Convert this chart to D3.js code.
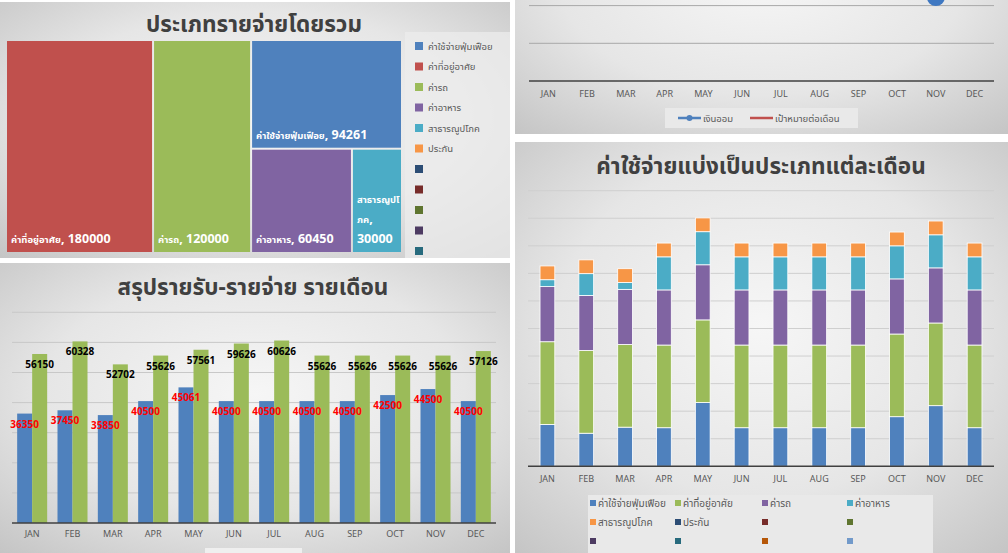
<!DOCTYPE html>
<html><head><meta charset="utf-8">
<script src="https://cdn.jsdelivr.net/npm/d3@7"></script>
<style>
body{margin:0;background:#fff}
svg{display:block}
text{font-family:"Noto Sans Thai","Noto Sans Thai UI","Tahoma","Noto Sans","DejaVu Sans",sans-serif}
</style>
</head><body>
<svg id="c" width="1008" height="553"></svg>
<script>
// ---------- DATA ----------
const months = ["JAN","FEB","MAR","APR","MAY","JUN","JUL","AUG","SEP","OCT","NOV","DEC"];
const categories = ["ค่าใช้จ่ายฟุ่มเฟือย","ค่าที่อยู่อาศัย","ค่ารถ","ค่าอาหาร","สาธารณูปโภค","ประกัน"];
const categoryTotals = [94261,180000,120000,60450,30000,0];
const income  = [56150,60328,52702,55626,57561,59626,60626,55626,55626,55626,55626,57126];
const expense = [36350,37450,35850,40500,45061,40500,40500,40500,40500,42500,44500,40500];
const savings = [19800,22878,16852,15126,12500,19126,20126,15126,15126,13126,11126,16626];
const monthlyTarget = [15000,15000,15000,15000,15000,15000,15000,15000,15000,15000,15000,15000];
const luxury    = [7600,6000,7100,7000,11561,7000,7000,7000,7000,9000,11000,7000];
const housing   = [15000,15000,15000,15000,15000,15000,15000,15000,15000,15000,15000,15000];
const car       = [10000,10000,10000,10000,10000,10000,10000,10000,10000,10000,10000,10000];
const food      = [1250,3950,1250,6000,6000,6000,6000,6000,6000,6000,6000,6000];
const utilities = [2500,2500,2500,2500,2500,2500,2500,2500,2500,2500,2500,2500];
const insurance = [0,0,0,0,0,0,0,0,0,0,0,0];
const treemapTitle = "ประเภทรายจ่ายโดยรวม";
const barTitle = "สรุปรายรับ-รายจ่าย รายเดือน";
const stackTitle = "ค่าใช้จ่ายแบ่งเป็นประเภทแต่ละเดือน";
const lineLegend = ["เงินออม","เป้าหมายต่อเดือน"];

// ---------- STYLE ----------
const palette = ["#4F81BD","#C0504D","#9BBB59","#8064A2","#4BACC6","#F79646",
                 "#2C4D75","#772C2A","#5F7530","#4D3B62","#276A7D"];
const stackPalette = ["#4F81BD","#9BBB59","#8064A2","#4BACC6","#F79646","#2C4D75",
                      "#772C2A","#5F7530","#4D3B62","#276A7D","#B65708","#729ACA"];
const svg = d3.select("#c");
const defs = svg.append("defs");
const g1 = defs.append("radialGradient").attr("id","pg").attr("cx","50%").attr("cy","45%").attr("r","75%");
g1.append("stop").attr("offset","0%").attr("stop-color","#f6f6f6");
g1.append("stop").attr("offset","55%").attr("stop-color","#e6e6e6");
g1.append("stop").attr("offset","100%").attr("stop-color","#c4c4c4");
defs.append("clipPath").attr("id","clipTR").append("rect").attr("x",515).attr("y",0).attr("width",493).attr("height",134);

function panel(x,y,w,h){ svg.append("rect").attr("x",x).attr("y",y).attr("width",w).attr("height",h).attr("fill","url(#pg)"); }
panel(0,2,510,256);
panel(0,263,510,290);
panel(515,-150,493,284);
panel(515,142,493,411);

const titleColor = "#404040", axisColor="#595959";
function title(txt,x,y){
  svg.append("text").attr("x",x).attr("y",y).attr("text-anchor","middle")
    .attr("font-size",22.5).attr("font-weight","bold").attr("fill",titleColor).text(txt);
}

// measuring helper
const meas = svg.append("text").attr("x",-999).attr("y",-999).attr("font-weight","bold");
function tw(s,fs){ meas.attr("font-size",fs).text(s); return meas.node().getComputedTextLength(); }

// ---------- TREEMAP ----------
title(treemapTitle,254,32);
svg.append("rect").attr("x",405).attr("y",32).attr("width",105).attr("height",226).attr("fill","#ececec").attr("opacity",0.75);
const tmData = {children: categories.map((c,i)=>({name:c,value:categoryTotals[i],color:palette[i]})).filter(d=>d.value>0)};
const root = d3.hierarchy(tmData).sum(d=>d.value||0).sort((a,b)=>b.value-a.value);
d3.treemap().tile(d3.treemapBinary).size([394,211]).paddingInner(2)(root);
const tm = svg.append("g").attr("transform","translate(7,41)");
const leaves = tm.selectAll("g").data(root.leaves()).join("g");
leaves.append("rect").attr("x",d=>d.x0).attr("y",d=>d.y0)
  .attr("width",d=>d.x1-d.x0).attr("height",d=>d.y1-d.y0).attr("fill",d=>d.data.color);
const seg = new Intl.Segmenter("th",{granularity:"grapheme"});
const thFs = 9.5, numFs = 12.5;
leaves.each(function(d){
  const g = d3.select(this);
  const maxW = d.x1-d.x0-2;
  const units = [];
  for (const s of seg.segment(d.data.name)) units.push({t:s.segment,fs:thFs});
  units.push({t:",",fs:numFs});
  units.push({t:" ",fs:numFs,space:true});
  units.push({t:String(d.data.value),fs:numFs});
  units.forEach(u=>u.w=tw(u.t,u.fs));
  const lines=[]; let cur=[], w=0;
  units.forEach(u=>{
    if (w+u.w>maxW && cur.length){ lines.push(cur); cur=[]; w=0; if(u.space) return; }
    if (u.space && !cur.length) return;
    cur.push(u); w+=u.w;
  });
  if (cur.length) lines.push(cur);
  const lh=20;
  const t = g.append("text").attr("font-weight","bold").attr("fill","#fff");
  lines.forEach((ln,i)=>{
    const y = d.y1-9-(lines.length-1-i)*lh;
    const parts=[];
    ln.forEach(u=>{ if(parts.length && parts[parts.length-1].fs===u.fs) parts[parts.length-1].t+=u.t; else parts.push({t:u.t,fs:u.fs}); });
    parts.forEach((p,k)=>{
      const ts = t.append("tspan").attr("font-size",p.fs).attr("xml:space","preserve").text(p.t);
      if(k===0) ts.attr("x",d.x0+4).attr("y",y);
    });
  });
});
meas.remove();
// treemap legend
const tmLeg = svg.append("g");
palette.forEach((c,i)=>{
  const y = 46 + i*20.5;
  tmLeg.append("rect").attr("x",415).attr("y",y-4).attr("width",8).attr("height",8).attr("fill",c);
  if (categories[i]) tmLeg.append("text").attr("x",428).attr("y",y+3.5).attr("font-size",9.5).attr("fill",axisColor).text(categories[i]);
});

// ---------- BAR CHART (income / expense) ----------
title(barTitle,253,295);
const xb = d3.scaleBand().domain(months).range([12,496]).padding(0);
const yb = d3.scaleLinear().domain([0,70000]).range([523,312.3]);
const gb = svg.append("g");
gb.selectAll("line.grid").data(yb.ticks(7).filter(v=>v>0)).join("line")
  .attr("x1",12).attr("x2",496).attr("y1",d=>yb(d)).attr("y2",d=>yb(d)).attr("stroke","#c8c8c8").attr("stroke-width",1);
const bw = xb.bandwidth()*0.372;
gb.selectAll("rect.exp").data(expense).join("rect")
  .attr("x",(d,i)=>xb(months[i])+xb.bandwidth()/2-bw).attr("y",d=>yb(d))
  .attr("width",bw).attr("height",d=>yb(0)-yb(d)).attr("fill",palette[0]);
gb.selectAll("rect.inc").data(income).join("rect")
  .attr("x",(d,i)=>xb(months[i])+xb.bandwidth()/2).attr("y",d=>yb(d))
  .attr("width",bw).attr("height",d=>yb(0)-yb(d)).attr("fill",palette[2]);
gb.append("line").attr("x1",12).attr("x2",496).attr("y1",yb(0)).attr("y2",yb(0)).attr("stroke","#404040").attr("stroke-width",1.5);
gb.selectAll("text.exp").data(expense).join("text")
  .attr("x",(d,i)=>xb(months[i])+xb.bandwidth()/2-bw/2).attr("y",d=>yb(d)+14)
  .attr("text-anchor","middle").attr("font-size",10).attr("font-weight","bold").attr("fill","#ff0000").text(d=>d);
gb.selectAll("text.inc").data(income).join("text")
  .attr("x",(d,i)=>xb(months[i])+xb.bandwidth()/2+bw/2).attr("y",d=>yb(d)+14)
  .attr("text-anchor","middle").attr("font-size",10).attr("font-weight","bold").attr("fill","#000").text(d=>d);
const axB = gb.append("g").attr("transform",`translate(0,${yb(0)})`).call(d3.axisBottom(xb).tickSize(0).tickPadding(8));
axB.select(".domain").remove();
axB.selectAll("text").attr("font-size",9).attr("fill",axisColor);
svg.append("rect").attr("x",205).attr("y",548).attr("width",97).attr("height",6).attr("fill","#efefef");

// ---------- LINE CHART (savings) ----------
const xl = d3.scaleBand().domain(months).range([529,994]).padding(0);
const yl = d3.scaleLinear().domain([0,25000]).range([81,81-5*37.7]);
const gl = svg.append("g");
const glc = gl.append("g").attr("clip-path","url(#clipTR)");
glc.selectAll("line.grid").data(yl.ticks(5).filter(v=>v>0)).join("line")
  .attr("x1",529).attr("x2",994).attr("y1",d=>yl(d)).attr("y2",d=>yl(d)).attr("stroke","#a8a8a8").attr("stroke-width",1);
gl.append("line").attr("x1",529).attr("x2",994).attr("y1",yl(0)).attr("y2",yl(0)).attr("stroke","#404040").attr("stroke-width",1.5);
const cx = m=>xl(m)+xl.bandwidth()/2;
glc.append("path").datum(monthlyTarget).attr("fill","none").attr("stroke",palette[1]).attr("stroke-width",2.5)
  .attr("stroke-linejoin","round").attr("d",d3.line().x((d,i)=>cx(months[i])).y(d=>yl(d)));
glc.append("path").datum(savings).attr("fill","none").attr("stroke",palette[0]).attr("stroke-width",2.5)
  .attr("stroke-linejoin","round").attr("d",d3.line().x((d,i)=>cx(months[i])).y(d=>yl(d)));
glc.selectAll("circle.pt").data(savings).join("circle")
  .attr("cx",(d,i)=>cx(months[i])).attr("cy",d=>yl(d)).attr("r",9).attr("fill","#3f78c2");
glc.selectAll("text.pt").data(savings.map((v,i)=>({v,m:months[i]})).filter(p=>yl(p.v)>-8)).join("text")
  .attr("x",p=>cx(p.m)).attr("y",p=>yl(p.v)+3).attr("text-anchor","middle")
  .attr("font-size",10).attr("font-weight","bold").attr("fill","#000").text(p=>p.v);
const axL = gl.append("g").attr("transform",`translate(0,${yl(0)})`).call(d3.axisBottom(xl).tickSize(0).tickPadding(10));
axL.select(".domain").remove();
axL.selectAll("text").attr("font-size",9).attr("fill",axisColor);
gl.append("rect").attr("x",665).attr("y",108).attr("width",193).attr("height",20).attr("fill","#e9e9e9");
gl.append("line").attr("x1",678).attr("x2",701).attr("y1",118).attr("y2",118).attr("stroke",palette[0]).attr("stroke-width",2.5);
gl.append("circle").attr("cx",689.5).attr("cy",118).attr("r",3).attr("fill",palette[0]);
gl.append("text").attr("x",703).attr("y",121.5).attr("font-size",9.5).attr("fill",axisColor).text(lineLegend[0]);
gl.append("line").attr("x1",750).attr("x2",773).attr("y1",118).attr("y2",118).attr("stroke",palette[1]).attr("stroke-width",2.5);
gl.append("text").attr("x",775).attr("y",121.5).attr("font-size",9.5).attr("fill",axisColor).text(lineLegend[1]);

// ---------- STACKED BAR ----------
title(stackTitle,761,174);
const xs = d3.scaleBand().domain(months).range([528,994]).padding(0);
const ys = d3.scaleLinear().domain([0,50000]).range([466.3,190.7]);
const gs = svg.append("g");
gs.selectAll("line.grid").data(ys.ticks(10).filter(v=>v>0)).join("line")
  .attr("x1",528).attr("x2",994).attr("y1",d=>ys(d)).attr("y2",d=>ys(d)).attr("stroke","#cfcfcf").attr("stroke-width",1);
const seriesArr = [luxury,housing,car,food,utilities,insurance];
const rows = months.map((m,i)=>{const o={month:m}; categories.forEach((c,k)=>o[c]=seriesArr[k][i]); return o;});
const stack = d3.stack().keys(categories)(rows);
const sw = xs.bandwidth()*0.38;
gs.selectAll("g.layer").data(stack).join("g").attr("fill",(d,i)=>stackPalette[i])
  .selectAll("rect").data(d=>d.filter(p=>p[1]>p[0])).join("rect")
  .attr("x",d=>xs(d.data.month)+xs.bandwidth()/2-sw/2).attr("y",d=>ys(d[1]))
  .attr("width",sw).attr("height",d=>ys(d[0])-ys(d[1]))
  .attr("stroke","#ffffff").attr("stroke-width",0.8);
gs.append("line").attr("x1",528).attr("x2",994).attr("y1",ys(0)).attr("y2",ys(0)).attr("stroke","#404040").attr("stroke-width",1.5);
const axS = gs.append("g").attr("transform",`translate(0,${ys(0)})`).call(d3.axisBottom(xs).tickSize(0).tickPadding(9));
axS.select(".domain").remove();
axS.selectAll("text").attr("font-size",9).attr("fill",axisColor);
gs.append("rect").attr("x",588).attr("y",495).attr("width",345).attr("height",60).attr("fill","#e9e9e9");
const legCols=[593,678,765,850], legRows=[503,522,541];
stackPalette.forEach((c,i)=>{
  const x=legCols[i%4], y=legRows[Math.floor(i/4)];
  gs.append("rect").attr("x",x-3).attr("y",y-3).attr("width",6).attr("height",6).attr("fill",c);
  if (categories[i]) gs.append("text").attr("x",x+5).attr("y",y+3.5).attr("font-size",10).attr("fill",axisColor).text(categories[i]);
});
</script>
</body></html>
